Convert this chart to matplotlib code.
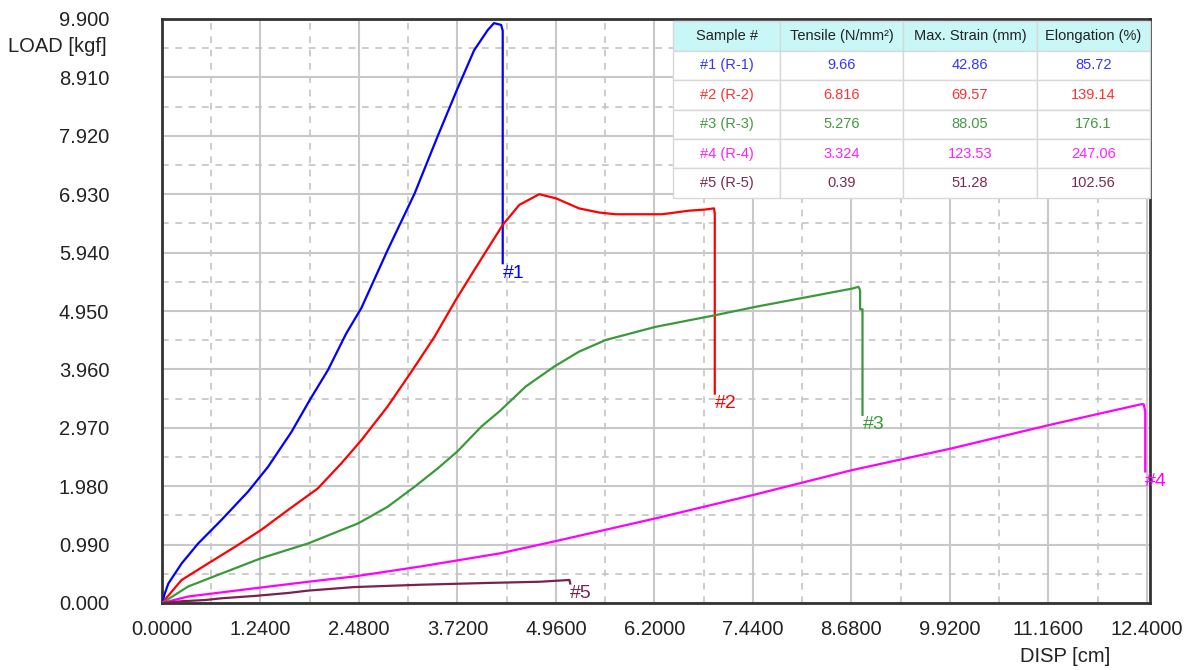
import matplotlib
matplotlib.use("Agg")
import matplotlib.pyplot as plt
from matplotlib.ticker import MultipleLocator, FormatStrFormatter

plt.rcParams["font.family"] = ["Liberation Sans", "DejaVu Sans"]

# ── data ─────────────────────────────────────────────────────────────────────
x1 = [0, 0.04, 0.08, 0.247, 0.456, 0.75, 1.085, 1.336, 1.63, 1.86, 2.09, 2.32,
      2.51, 2.84, 3.18, 3.47, 3.72, 3.93, 4.10, 4.18, 4.27, 4.29, 4.29]
y1 = [0, 0.18, 0.33, 0.67, 1.01, 1.41, 1.89, 2.31, 2.90, 3.44, 3.95, 4.57,
      5.00, 5.98, 6.94, 7.91, 8.72, 9.37, 9.71, 9.83, 9.80, 9.70, 5.76]

x2 = [0, 0.247, 0.58, 0.917, 1.25, 1.59, 1.96, 2.26, 2.51, 2.84, 3.14, 3.43,
      3.70, 3.93, 4.29, 4.50, 4.75, 4.96, 5.25, 5.50, 5.71, 6.30, 6.63, 6.84,
      6.95, 6.96, 6.96]
y2 = [0, 0.39, 0.67, 0.95, 1.24, 1.58, 1.94, 2.37, 2.76, 3.33, 3.92, 4.51,
      5.14, 5.64, 6.41, 6.75, 6.93, 6.86, 6.69, 6.62, 6.59, 6.59, 6.65, 6.67,
      6.69, 6.60, 3.55]

x3 = [0, 0.33, 0.75, 1.25, 1.84, 2.47, 2.84, 3.18, 3.47, 3.72, 4.02, 4.25,
      4.58, 4.94, 5.25, 5.59, 6.21, 6.97, 7.47, 8.10, 8.69, 8.77, 8.79, 8.79,
      8.82, 8.82]
y3 = [0, 0.28, 0.50, 0.76, 1.01, 1.35, 1.63, 1.97, 2.28, 2.57, 2.99, 3.25,
      3.67, 4.01, 4.26, 4.46, 4.68, 4.88, 5.02, 5.18, 5.33, 5.36, 5.30, 4.98,
      4.98, 3.19]

x4 = [0, 0.33, 1.17, 1.84, 2.42, 3.26, 4.25, 4.96, 6.20, 7.44, 8.68, 9.94,
      11.18, 12.33, 12.36, 12.38, 12.38]
y4 = [0, 0.11, 0.25, 0.36, 0.45, 0.62, 0.84, 1.05, 1.43, 1.83, 2.25, 2.62,
      3.02, 3.37, 3.37, 3.25, 2.23]

x5 = [0, 0.25, 0.54, 0.75, 1.17, 1.59, 1.84, 2.42, 3.26, 4.10, 4.75, 5.13, 5.14]
y5 = [0, 0.03, 0.05, 0.08, 0.12, 0.17, 0.21, 0.27, 0.31, 0.34, 0.36, 0.39, 0.33]

labels = ["#1", "#2", "#3", "#4", "#5"]
colors = ["#0000ff", "#ff0000", "#3a9a3a", "#ff00ff", "#7b2150"]

table_cols = ["Sample #", "Tensile (N/mm²)", "Max. Strain (mm)", "Elongation (%)"]
samples = ["#1 (R-1)", "#2 (R-2)", "#3 (R-3)", "#4 (R-4)", "#5 (R-5)"]
tensile = ["9.66", "6.816", "5.276", "3.324", "0.39"]
max_strain = ["42.86", "69.57", "88.05", "123.53", "51.28"]
elongation = ["85.72", "139.14", "176.1", "247.06", "102.56"]
table_text_colors = ["#3535ff", "#ff3030", "#449944", "#ff22ff", "#7a2a50"]

# ── canvas ───────────────────────────────────────────────────────────────────
fig = plt.figure(figsize=(11.94, 6.70), dpi=100, facecolor="white")
ax = fig.add_axes([162 / 1194, 67 / 670, 988 / 1194, 584 / 670])

series = [(x1, y1), (x2, y2), (x3, y3), (x4, y4), (x5, y5)]
for (xs, ys), lab, col in zip(series, labels, colors):
    ax.plot(xs, ys, color=col, lw=1.6, zorder=3)
    ax.annotate(lab, xy=(xs[-1], ys[-1]), xytext=(0, -1),
                textcoords="offset points", ha="left", va="top",
                color=col, fontsize=14, zorder=4)

ax.set_xlim(0, 12.44)
ax.set_ylim(0, 9.9)
ax.xaxis.set_major_locator(MultipleLocator(1.24))
ax.xaxis.set_minor_locator(MultipleLocator(0.62))
ax.yaxis.set_major_locator(MultipleLocator(0.99))
ax.yaxis.set_minor_locator(MultipleLocator(0.495))
ax.xaxis.set_major_formatter(FormatStrFormatter("%.4f"))
ax.yaxis.set_major_formatter(FormatStrFormatter("%.3f"))

ax.grid(which="major", color="#c8c8c8", lw=1.5, zorder=0)
ax.grid(which="minor", color="#c4c4c4", lw=1.2, ls=(0, (4, 4)), zorder=0)
ax.set_axisbelow(True)

ax.tick_params(which="both", length=0)
ax.tick_params(axis="x", labelsize=14.5, pad=12, labelcolor="#222222")
ax.tick_params(axis="y", labelsize=14.5, pad=38, labelcolor="#222222")

for s in ax.spines.values():
    s.set_color("#333333")
    s.set_linewidth(2)

fig.text(107 / 1194, 1 - 47 / 670, "LOAD [kgf]", ha="right", va="center",
         fontsize=14.5, color="#222222")
fig.text(1110 / 1194, 1 - 657 / 670, "DISP [cm]", ha="right", va="center",
         fontsize=14.5, color="#222222")

# ── results table ────────────────────────────────────────────────────────────
cell_text = [list(r) for r in zip(samples, tensile, max_strain, elongation)]
tbl = ax.table(cellText=cell_text, colLabels=table_cols,
               colWidths=[107, 123, 134, 113], cellLoc="center",
               bbox=[511 / 988, 405 / 584, 477 / 988, 177 / 584], zorder=5)
tbl.auto_set_font_size(False)
for (r, c), cell in tbl.get_celld().items():
    cell.set_edgecolor("#d8d8d8")
    cell.set_linewidth(1)
    cell.get_text().set_fontsize(10.5)
    if r == 0:
        cell.set_facecolor("#c9f6f6")
        cell.get_text().set_color("#222222")
    else:
        cell.set_facecolor("white")
        cell.get_text().set_color(table_text_colors[r - 1])

fig.savefig("out.png", dpi=100, facecolor="white")
